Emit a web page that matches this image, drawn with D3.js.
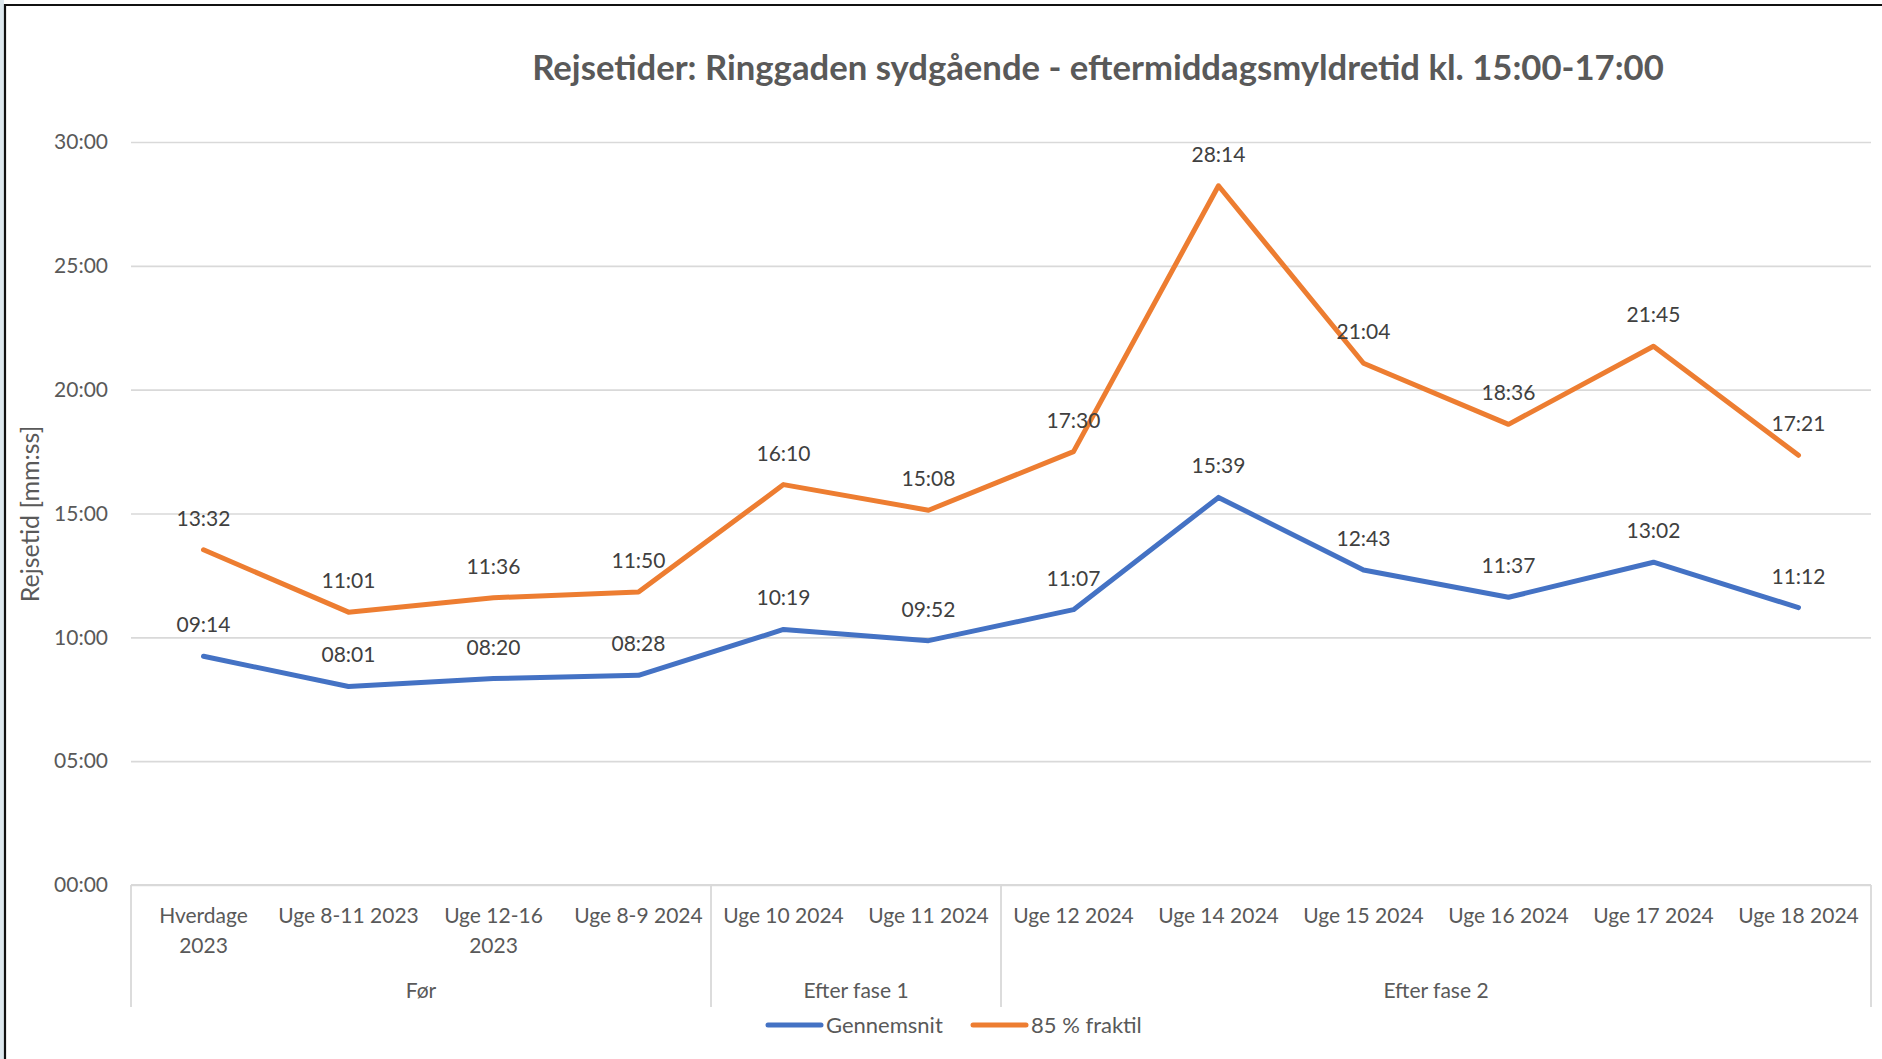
<!DOCTYPE html>
<html>
<head>
<meta charset="utf-8">
<script src="https://cdn.jsdelivr.net/npm/d3@7"></script>
<style>
  html, body { margin: 0; padding: 0; background: #ffffff; }
  svg { display: block; }
</style>
</head>
<body>
<svg id="chart" width="1882" height="1059"></svg>
<script>
// ---------- DATA ----------
const chartTitle = "Rejsetider: Ringgaden sydgående - eftermiddagsmyldretid kl. 15:00-17:00";
const yAxisTitle = "Rejsetid [mm:ss]";
const categories = [
  "Hverdage\n2023", "Uge 8-11 2023", "Uge 12-16\n2023", "Uge 8-9 2024",
  "Uge 10 2024", "Uge 11 2024",
  "Uge 12 2024", "Uge 14 2024", "Uge 15 2024", "Uge 16 2024", "Uge 17 2024", "Uge 18 2024"
];
const groupNames = ["Før", "Efter fase 1", "Efter fase 2"];
const groupSizes = [4, 2, 6];
const seriesNames = ["Gennemsnit", "85 % fraktil"];
const gennemsnit = ["09:14", "08:01", "08:20", "08:28", "10:19", "09:52", "11:07", "15:39", "12:43", "11:37", "13:02", "11:12"];
const fraktil85 = ["13:32", "11:01", "11:36", "11:50", "16:10", "15:08", "17:30", "28:14", "21:04", "18:36", "21:45", "17:21"];
const yTicks = [0, 5, 10, 15, 20, 25, 30];
const seriesColors = ["#4472C4", "#ED7D31"];

// ---------- HELPERS ----------
const toMin = s => { const [m, sec] = s.split(":").map(Number); return m + sec / 60; };
const fmtTick = v => String(v).padStart(2, "0") + ":00";

const series = [gennemsnit, fraktil85].map((vals, i) => ({
  name: seriesNames[i],
  color: seriesColors[i],
  points: vals.map((v, j) => ({ cat: categories[j], label: v, value: toMin(v) }))
}));

const svg = d3.select("#chart");
const W = 1882, H = 1059;
const plot = { left: 131, right: 1871, top: 142, bottom: 885 };
const FONT = "Lato, 'Open Sans', sans-serif";

// background & frame artefacts
svg.append("rect").attr("x", 0).attr("y", 0).attr("width", W).attr("height", H).attr("fill", "#fff");
svg.append("rect").attr("x", 0).attr("y", 0).attr("width", 4).attr("height", H).attr("fill", "#dde8ee");
svg.append("line").attr("x1", 5).attr("x2", W).attr("y1", 5).attr("y2", 5).attr("stroke", "#111").attr("stroke-width", 2.2);
svg.append("line").attr("x1", 5).attr("x2", 5).attr("y1", 4).attr("y2", H).attr("stroke", "#111").attr("stroke-width", 2.2);

// ---------- SCALES ----------
const x = d3.scaleBand().domain(categories).range([plot.left, plot.right]).padding(0);
const y = d3.scaleLinear().domain([0, 30]).range([plot.bottom, plot.top]);
const cx = c => x(c) + x.bandwidth() / 2;

// ---------- GRID & Y AXIS ----------
const yAxis = d3.axisLeft(y).tickValues(yTicks).tickFormat(fmtTick)
  .tickSize(-(plot.right - plot.left)).tickPadding(23);
const gy = svg.append("g").attr("transform", `translate(${plot.left},0)`).call(yAxis);
gy.select(".domain").remove();
gy.selectAll(".tick line").attr("stroke", "#d9d9d9").attr("stroke-width", 1.6);
gy.selectAll(".tick text").attr("fill", "#595959").style("font-family", FONT).style("font-size", "21px");

// ---------- X AXIS (multi-level) ----------
const axisBottom = 1007;
const gx = svg.append("g");
gx.append("line").attr("x1", plot.left).attr("x2", plot.right).attr("y1", plot.bottom).attr("y2", plot.bottom)
  .attr("stroke", "#d9d9d9").attr("stroke-width", 1.8);
let idx = 0;
const bounds = [0];
groupSizes.forEach(n => { idx += n; bounds.push(idx); });
bounds.forEach(b => {
  const bx = b < categories.length ? x(categories[b]) : plot.right;
  gx.append("line").attr("x1", bx).attr("x2", bx).attr("y1", plot.bottom).attr("y2", axisBottom)
    .attr("stroke", "#d9d9d9").attr("stroke-width", 1.8);
});
categories.forEach(c => {
  const t = gx.append("text").attr("x", cx(c)).attr("y", 923).attr("text-anchor", "middle")
    .attr("fill", "#595959").style("font-family", FONT).style("font-size", "21px");
  c.split("\n").forEach((line, i) => {
    t.append("tspan").attr("x", cx(c)).attr("dy", i === 0 ? 0 : 30).text(line);
  });
});
groupNames.forEach((g, i) => {
  const x0 = x(categories[bounds[i]]);
  const x1 = bounds[i + 1] < categories.length ? x(categories[bounds[i + 1]]) : plot.right;
  gx.append("text").attr("x", (x0 + x1) / 2).attr("y", 998).attr("text-anchor", "middle")
    .attr("fill", "#595959").style("font-family", FONT).style("font-size", "21px").text(g);
});

// ---------- Y AXIS TITLE ----------
svg.append("text").attr("transform", `translate(39,514) rotate(-90)`).attr("text-anchor", "middle")
  .attr("fill", "#595959").style("font-family", FONT).style("font-size", "25px").text(yAxisTitle);

// ---------- LINES ----------
const line = d3.line().x(d => cx(d.cat)).y(d => y(d.value));
series.forEach(s => {
  svg.append("path").datum(s.points).attr("d", line).attr("fill", "none")
    .attr("stroke", s.color).attr("stroke-width", 5).attr("stroke-linecap", "round").attr("stroke-linejoin", "round");
});
series.forEach(s => {
  svg.append("g").selectAll("text").data(s.points).join("text")
    .attr("x", d => cx(d.cat)).attr("y", d => y(d.value) - 24).attr("text-anchor", "middle")
    .attr("fill", "#404040").style("font-family", FONT).style("font-size", "21px").text(d => d.label);
});

// ---------- TITLE ----------
const title = svg.append("text").attr("x", 1098).attr("y", 80).attr("text-anchor", "middle")
  .attr("fill", "#595959").style("font-family", FONT).style("font-weight", "bold").style("font-size", "30px").text(chartTitle);
const tw = title.node().getComputedTextLength();
if (tw > 0) title.style("font-size", (30 * 1132 / tw).toFixed(2) + "px");

// ---------- LEGEND ----------
const legendX = [768, 973];
const legend = svg.append("g");
series.forEach((s, i) => {
  legend.append("line").attr("x1", legendX[i]).attr("x2", legendX[i] + 53).attr("y1", 1025).attr("y2", 1025)
    .attr("stroke", s.color).attr("stroke-width", 5).attr("stroke-linecap", "round");
  legend.append("text").attr("x", legendX[i] + 58).attr("y", 1033).attr("fill", "#595959")
    .style("font-family", FONT).style("font-size", "22px").text(s.name);
});
</script>
</body>
</html>
